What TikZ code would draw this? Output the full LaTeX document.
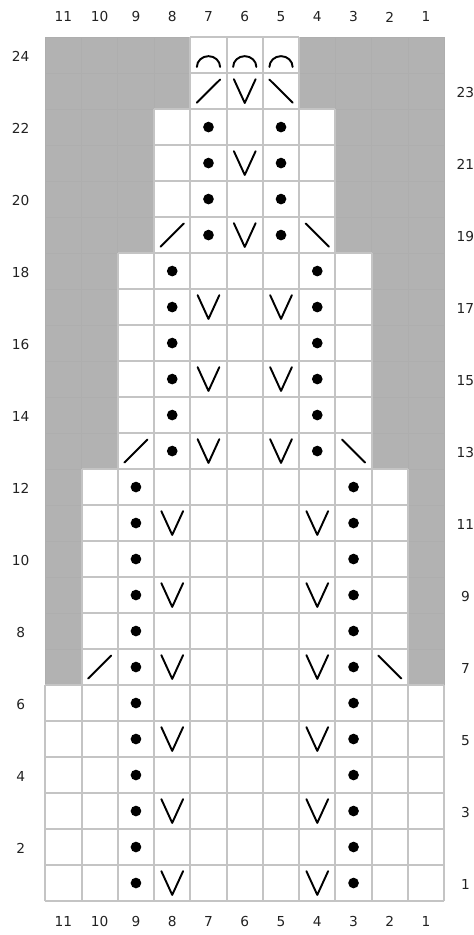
\documentclass[tikz,border=0pt]{standalone}
\usepackage{fontspec}
\setmainfont{DejaVu Sans}
\definecolor{nogo}{HTML}{B2B2B2}
\definecolor{nogoline}{HTML}{AEAEAE}
\definecolor{cellline}{HTML}{C4C4C4}
\definecolor{labeltext}{HTML}{222222}

\begin{document}
\begin{tikzpicture}[x=27.2pt,y=27pt,line join=round,
  gridline/.style={draw=cellline,line width=1.5pt},
  stitch/.style={line width=1.45pt,line cap=round},
  lbl/.style={font=\fontsize{10.3}{12}\selectfont,text=labeltext},
  slip/.pic={\draw[stitch] (-0.3,0.33) -- (0,-0.33) -- (0.3,0.33);},
  rtwo/.pic={\draw[stitch] (-0.32,-0.32) -- (0.32,0.32);},
  ltwo/.pic={\draw[stitch] (-0.32,0.32) -- (0.32,-0.32);},
  boff/.pic={\draw[stitch] (-0.32,-0.33) arc[start angle=180,end angle=0,x radius=0.32,y radius=0.3];}]
\useasboundingbox (-1.249,-0.944) rectangle (11.82,25.03);
% no stitch
\fill[nogo] (0,6) rectangle (11,24);
\draw[nogoline,line width=0.6pt,step=1] (0,6) grid (11,24);
% knitted cells
\foreach \a/\b/\lo/\hi in {0/6/0/11,6/12/1/10,12/18/2/9,18/22/3/8,22/24/4/7}{
  \fill[white] (\lo,\a) rectangle (\hi,\b);
  \draw[gridline,step=1] (\lo,\a) grid (\hi,\b);
}
% purl
\foreach \x/\lo/\hi in {2.5/1/12,8.5/1/12,3.5/13/18,7.5/13/18,4.5/19/22,6.5/19/22}
  \foreach \r in {\lo,...,\hi}
    \fill (\x,\r-0.5) circle[radius=4pt];
% slip
\foreach \x/\lo/\n in {3.5/1/5,7.5/1/5,4.5/13/2,6.5/13/2,5.5/19/2}
  \foreach \k in {0,...,\n}
    \pic at (\x,\lo+2*\k-0.5) {slip};
% decreases
\foreach \x/\y in {1.5/6.5,2.5/12.5,3.5/18.5,4.5/22.5}
  \pic at (\x,\y) {rtwo};
\foreach \x/\y in {9.5/6.5,8.5/12.5,7.5/18.5,6.5/22.5}
  \pic at (\x,\y) {ltwo};
% bind off
\foreach \x in {4.5,5.5,6.5}
  \pic at (\x,23.5) {boff};
% labels
\foreach \c in {1,...,11}{
  \node[lbl] (top\c) at (11.5-\c,24.56) {\c};
  \node[lbl] (bot\c) at (11.5-\c,-0.575) {\c};
}
\foreach \r in {2,4,...,24}
  \node[lbl] (left\r) at (-0.678,\r-0.55) {\r};
\foreach \r in {1,3,...,23}
  \node[lbl] (right\r) at (11.585,\r-0.55) {\r};
\end{tikzpicture}
\end{document}
